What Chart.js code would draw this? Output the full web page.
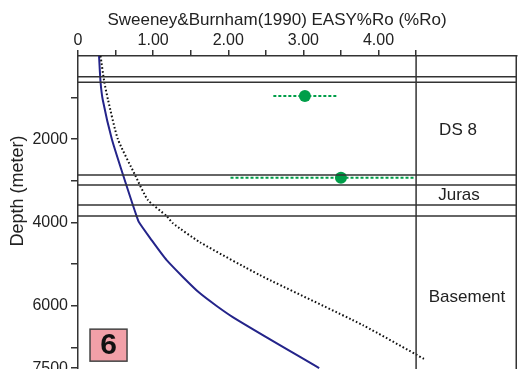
<!DOCTYPE html>
<html>
<head>
<meta charset="utf-8">
<script src="https://cdn.jsdelivr.net/npm/chart.js@4.4.0/dist/chart.umd.min.js"></script>
<style>
  html, body { margin: 0; padding: 0; background: #fff; overflow: hidden; }
  #wrap { width: 523px; height: 369px; overflow: hidden; }
</style>
</head>
<body>
<div id="wrap"><canvas id="grafico" width="523" height="382"></canvas></div>
<script>
// modelled vitrinite reflectance (solid curve)
const modelDepth = [0, 625, 1058, 1995, 2860, 3580, 3846, 3990, 4375, 4904, 5697, 6274, 7500];
const modelRo = [0.28, 0.30, 0.33, 0.45, 0.60, 0.73, 0.78, 0.81, 0.96, 1.18, 1.62, 2.06, 3.21];

// second model (dotted curve)
const dotDepth = [0, 625, 1058, 1995, 2860, 3460, 3846, 4014, 4471, 5264, 6466, 7284];
const dotRo = [0.30, 0.35, 0.40, 0.53, 0.76, 0.93, 1.18, 1.26, 1.62, 2.42, 3.79, 4.61];

// measured %Ro with range
const sampleDepth = [962, 2925];
const sampleRo = [3.02, 3.50];
const sampleMin = [2.60, 2.03];
const sampleMax = [3.44, 4.49];

// formation boundaries and names
const boundaryDepths = [497, 632, 2860, 3101, 3582, 3846];
const formations = ['DS 8', 'Juras', 'Basement'];
const formationDepths = [1779, 3341, 5793];

const xTicks = [0, 0.5, 1, 1.5, 2, 2.5, 3, 3.5, 4, 4.5];
const yTicks = [1000, 2000, 3000, 4000, 5000, 6000, 7000, 7500];
const yLabels = [2000, 4000, 6000, 7500];

const X_MAX = 5.843;
const Y_MAX = 7530;
const COLUMN_X = 4.5;

const lineColor = '#333333';
const green = '#009e49';

const datasets = [];

boundaryDepths.forEach(d => {
  datasets.push({
    data: [{ x: 0, y: d }, { x: X_MAX, y: d }],
    showLine: true, borderColor: lineColor, borderWidth: 1.5, pointRadius: 0
  });
});

datasets.push({
  data: [{ x: COLUMN_X, y: 0 }, { x: COLUMN_X, y: Y_MAX }],
  showLine: true, borderColor: lineColor, borderWidth: 1.5, pointRadius: 0
});

datasets.push({
  data: dotDepth.map((d, i) => ({ x: dotRo[i], y: d })),
  showLine: true, borderColor: '#111', borderWidth: 2, borderDash: [1.6, 2.2],
  pointRadius: 0, tension: 0.2
});

datasets.push({
  data: modelDepth.map((d, i) => ({ x: modelRo[i], y: d })),
  showLine: true, borderColor: '#24248a', borderWidth: 2, pointRadius: 0, tension: 0.2
});

sampleDepth.forEach((d, i) => {
  datasets.push({
    data: [{ x: sampleMin[i], y: d }, { x: sampleMax[i], y: d }],
    showLine: true, borderColor: green, borderWidth: 2, borderDash: [3, 2], pointRadius: 0
  });
});

datasets.push({
  data: sampleDepth.map((d, i) => ({ x: sampleRo[i], y: d })),
  showLine: false, pointRadius: 6, pointBackgroundColor: green, pointBorderColor: green, pointBorderWidth: 0
});

const extras = {
  id: 'extras',
  afterDatasetsDraw(chart) {
    const { ctx, chartArea, scales } = chart;
    const sx = scales.x, sy = scales.y;
    ctx.save();

    // right border
    ctx.strokeStyle = lineColor;
    ctx.lineWidth = 1.5;
    ctx.beginPath();
    ctx.moveTo(chartArea.right - 0.75, chartArea.top);
    ctx.lineTo(chartArea.right - 0.75, chartArea.bottom);
    ctx.stroke();

    // formation names
    ctx.fillStyle = '#222';
    ctx.font = '17px "Liberation Sans", Arial, sans-serif';
    ctx.textAlign = 'center';
    ctx.textBaseline = 'middle';
    const labelX = [458, 459, 467];
    formations.forEach((f, i) => {
      ctx.fillText(f, labelX[i], sy.getPixelForValue(formationDepths[i]));
    });

    // panel number box
    const bx = sx.getPixelForValue(0.16), by = sy.getPixelForValue(6563);
    const bw = 37, bh = 32;
    ctx.fillStyle = '#f2a0a8';
    ctx.fillRect(bx, by, bw, bh);
    ctx.strokeStyle = '#444';
    ctx.lineWidth = 1.5;
    ctx.strokeRect(bx, by, bw, bh);
    ctx.fillStyle = '#111';
    ctx.font = 'bold 30px "Liberation Sans", Arial, sans-serif';
    ctx.fillText('6', bx + bw / 2, by + bh / 2 + 1);

    // axis titles
    ctx.fillStyle = '#222';
    ctx.font = '17px "Liberation Sans", Arial, sans-serif';
    ctx.fillText('Sweeney&Burnham(1990) EASY%Ro (%Ro)', 277, 20);

    ctx.translate(18, 191);
    ctx.rotate(-Math.PI / 2);
    ctx.font = '18px "Liberation Sans", Arial, sans-serif';
    ctx.fillText('Depth (meter)', 0, 0);
    ctx.restore();
  }
};

new Chart(document.getElementById('grafico').getContext('2d'), {
  type: 'scatter',
  data: { datasets },
  options: {
    responsive: false,
    animation: false,
    devicePixelRatio: 1,
    layout: { padding: { left: 0, top: 0, right: 5, bottom: 0 } },
    plugins: { legend: { display: false }, tooltip: { enabled: false } },
    scales: {
      x: {
        type: 'linear',
        position: 'top',
        min: 0,
        max: X_MAX,
        border: { color: lineColor, width: 1.5 },
        grid: { drawOnChartArea: false, drawTicks: true, tickLength: 6, color: lineColor, lineWidth: 1.5 },
        ticks: {
          autoSkip: false, maxRotation: 0, padding: 0, color: '#222',
          font: { size: 16, family: '"Liberation Sans", Arial, sans-serif' },
          callback: v => Number.isInteger(v) ? (v === 0 ? '0' : v.toFixed(2)) : ''
        },
        afterBuildTicks: s => { s.ticks = xTicks.map(v => ({ value: v })); },
        afterFit: s => { s.height = 56; }
      },
      y: {
        type: 'linear',
        min: 0,
        max: Y_MAX,
        reverse: true,
        border: { color: lineColor, width: 1.5 },
        grid: { drawOnChartArea: false, drawTicks: true, tickLength: 7, color: lineColor, lineWidth: 1.5 },
        ticks: {
          autoSkip: false, padding: 3, color: '#222',
          font: { size: 16, family: '"Liberation Sans", Arial, sans-serif' },
          callback: v => yLabels.includes(v) ? String(v) : ''
        },
        afterBuildTicks: s => { s.ticks = yTicks.map(v => ({ value: v })); },
        afterFit: s => { s.width = 78; }
      }
    }
  },
  plugins: [extras]
});
</script>
</body>
</html>
